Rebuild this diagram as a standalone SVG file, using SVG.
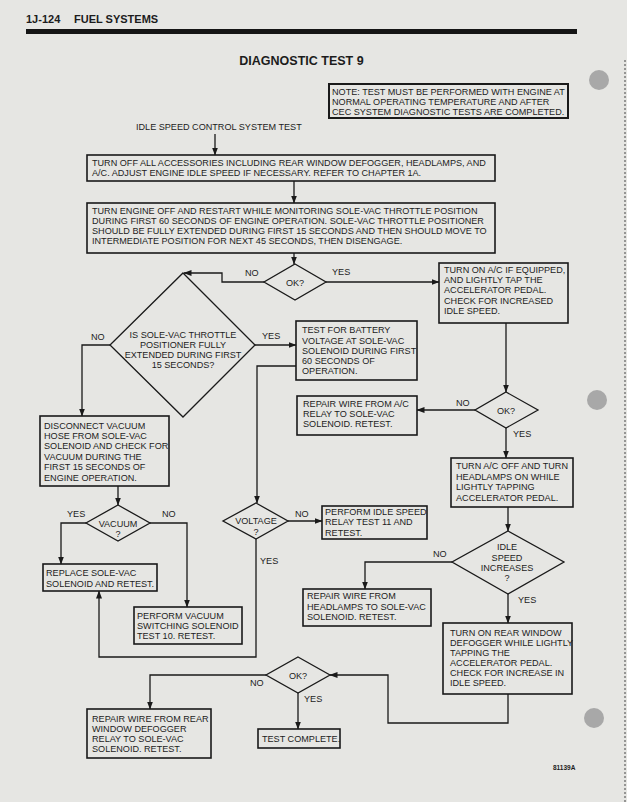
<svg xmlns="http://www.w3.org/2000/svg" width="627" height="802" viewBox="0 0 627 802">
<style>
.t{font-family:"Liberation Sans",Arial,Helvetica,sans-serif;font-size:9.1px;fill:#1c1c1c}
.m{text-anchor:middle}
.b{font-weight:bold}
.box{fill:none;stroke:#1a1a1a;stroke-width:1.6}
.dia{fill:none;stroke:#1a1a1a;stroke-width:1.3}
.c{fill:none;stroke:#1a1a1a;stroke-width:1.3;marker-end:url(#ah)}
.hole{fill:#a8a8a8}
</style>
<defs>
<marker id="ah" markerUnits="userSpaceOnUse" markerWidth="8" markerHeight="6" refX="7.5" refY="3" orient="auto">
<path d="M0,0 L8,3 L0,6 z" fill="#1a1a1a"/>
</marker>
</defs>
<rect x="0" y="0" width="627" height="802" fill="#e6e6e3"/>
<line x1="625" y1="60" x2="625" y2="802" stroke="#444" stroke-width="1" stroke-dasharray="2 2"/>
<circle class="hole" cx="599" cy="80" r="10"/>
<circle class="hole" cx="597" cy="400" r="10"/>
<circle class="hole" cx="594" cy="718" r="10"/>

<g id="header">
<text class="t b" x="26" y="23" style="font-size:11px">1J-124</text>
<text class="t b" x="74" y="23" style="font-size:11px">FUEL SYSTEMS</text>
<rect x="26" y="29" width="551" height="5" fill="#151515"/>
<text class="t b m" x="301.5" y="65" style="font-size:12.5px">DIAGNOSTIC TEST 9</text>
<text class="t b" x="553" y="770" style="font-size:6.5px">81139A</text>
</g>

<g id="connectors">
<path class="c" d="M215,134 V155"/>
<path class="c" d="M294,181 V203"/>
<path class="c" d="M294,253 V264"/>
<path class="c" d="M264,282 H222 V273 H184"/>
<path class="c" d="M326,282 H439"/>
<path class="c" d="M506,323 V392"/>
<path class="c" d="M475,410 H417"/>
<path class="c" d="M506,428 V458"/>
<path class="c" d="M508,507 V531"/>
<path class="c" d="M452,562 H365 V589"/>
<path class="c" d="M508,594 V623"/>
<path class="c" d="M508,694 V723 H388 V675 H330"/>
<path class="c" d="M266,675 H150 V709"/>
<path class="c" d="M298,693 V729"/>
<path class="c" d="M255,345 H296"/>
<path class="c" d="M110,345 H82 V416"/>
<path class="c" d="M118,486 V505"/>
<path class="c" d="M86,523 H61 V564"/>
<path class="c" d="M150,523 H187 V607"/>
<path class="c" d="M296,366 H257 V503"/>
<path class="c" d="M288,521 H322"/>
<path class="c" d="M256,539 V657 H99 V591"/>
<text class="t" x="245" y="276">NO</text>
<text class="t" x="332" y="275">YES</text>
<text class="t" x="91" y="340">NO</text>
<text class="t" x="262" y="339">YES</text>
<text class="t" x="456" y="406">NO</text>
<text class="t" x="513" y="437">YES</text>
<text class="t" x="67" y="517">YES</text>
<text class="t" x="162" y="517">NO</text>
<text class="t" x="295" y="517">NO</text>
<text class="t" x="260" y="564">YES</text>
<text class="t" x="433" y="557">NO</text>
<text class="t" x="518" y="603">YES</text>
<text class="t" x="250" y="686">NO</text>
<text class="t" x="304" y="702">YES</text>
</g>

<g id="note">
<rect class="box" x="329" y="84" width="239" height="34" style="stroke-width:2"/>
<text class="t" x="332" y="95">NOTE: TEST MUST BE PERFORMED WITH ENGINE AT</text>
<text class="t" x="332" y="105">NORMAL OPERATING TEMPERATURE AND AFTER</text>
<text class="t" x="332" y="115">CEC SYSTEM DIAGNOSTIC TESTS ARE COMPLETED.</text>
</g>

<g id="start">
<text class="t" x="136" y="130">IDLE SPEED CONTROL SYSTEM TEST</text>
</g>

<g id="accessories">
<rect class="box" x="87" y="155" width="408" height="26"/>
<text class="t" x="92" y="166">TURN OFF ALL ACCESSORIES INCLUDING REAR WINDOW DEFOGGER, HEADLAMPS, AND</text>
<text class="t" x="92" y="176">A/C. ADJUST ENGINE IDLE SPEED IF NECESSARY. REFER TO CHAPTER 1A.</text>
</g>

<g id="restart">
<rect class="box" x="87" y="203" width="408" height="50"/>
<text class="t" x="92" y="214">TURN ENGINE OFF AND RESTART WHILE MONITORING SOLE-VAC THROTTLE POSITION</text>
<text class="t" x="92" y="224">DURING FIRST 60 SECONDS OF ENGINE OPERATION. SOLE-VAC THROTTLE POSITIONER</text>
<text class="t" x="92" y="234">SHOULD BE FULLY EXTENDED DURING FIRST 15 SECONDS AND THEN SHOULD MOVE TO</text>
<text class="t" x="92" y="244">INTERMEDIATE POSITION FOR NEXT 45 SECONDS, THEN DISENGAGE.</text>
</g>

<g id="ok1">
<polygon class="dia" points="295,264 326,282 295,300 264,282"/>
<text class="t m" x="295" y="286">OK?</text>
</g>

<g id="ac-on">
<rect class="box" x="439" y="263" width="129" height="60"/>
<text class="t" x="444" y="273">TURN ON A/C IF EQUIPPED,</text>
<text class="t" x="444" y="283">AND LIGHTLY TAP THE</text>
<text class="t" x="444" y="293">ACCELERATOR PEDAL.</text>
<text class="t" x="444" y="304">CHECK FOR INCREASED</text>
<text class="t" x="444" y="314">IDLE SPEED.</text>
</g>

<g id="extended">
<polygon class="dia" points="183,273 255,345 183,417 110,345"/>
<text class="t m" x="183" y="338">IS SOLE-VAC THROTTLE</text>
<text class="t m" x="183" y="348">POSITIONER FULLY</text>
<text class="t m" x="183" y="358">EXTENDED DURING FIRST</text>
<text class="t m" x="183" y="368">15 SECONDS?</text>
</g>

<g id="battery">
<rect class="box" x="296" y="321" width="121" height="59"/>
<text class="t" x="302" y="333">TEST FOR BATTERY</text>
<text class="t" x="302" y="344">VOLTAGE AT SOLE-VAC</text>
<text class="t" x="302" y="354">SOLENOID DURING FIRST</text>
<text class="t" x="302" y="364">60 SECONDS OF</text>
<text class="t" x="302" y="374">OPERATION.</text>
</g>

<g id="ok2">
<polygon class="dia" points="506,392 538,410 506,428 475,410"/>
<text class="t m" x="506" y="414">OK?</text>
</g>

<g id="repair-ac">
<rect class="box" x="297" y="396" width="120" height="39"/>
<text class="t" x="303" y="407">REPAIR WIRE FROM A/C</text>
<text class="t" x="303" y="417">RELAY TO SOLE-VAC</text>
<text class="t" x="303" y="427">SOLENOID. RETEST.</text>
</g>

<g id="disconnect">
<rect class="box" x="40" y="416" width="129" height="70"/>
<text class="t" x="44" y="429">DISCONNECT VACUUM</text>
<text class="t" x="44" y="439">HOSE FROM SOLE-VAC</text>
<text class="t" x="44" y="449">SOLENOID AND CHECK FOR</text>
<text class="t" x="44" y="460">VACUUM DURING THE</text>
<text class="t" x="44" y="470">FIRST 15 SECONDS OF</text>
<text class="t" x="44" y="481">ENGINE OPERATION.</text>
</g>

<g id="ac-off">
<rect class="box" x="451" y="458" width="122" height="49"/>
<text class="t" x="456" y="469">TURN A/C OFF AND TURN</text>
<text class="t" x="456" y="480">HEADLAMPS ON WHILE</text>
<text class="t" x="456" y="490">LIGHTLY TAPPING</text>
<text class="t" x="456" y="501">ACCELERATOR PEDAL.</text>
</g>

<g id="vacuum">
<polygon class="dia" points="118,505 150,523 118,541 86,523"/>
<text class="t m" x="118" y="527">VACUUM</text>
<text class="t m" x="118" y="537">?</text>
</g>

<g id="voltage">
<polygon class="dia" points="256,503 288,521 256,539 223,521"/>
<text class="t m" x="256" y="524">VOLTAGE</text>
<text class="t m" x="256" y="535">?</text>
</g>

<g id="idle-relay">
<rect class="box" x="322" y="506" width="105" height="33"/>
<text class="t" x="325" y="515">PERFORM IDLE SPEED</text>
<text class="t" x="325" y="525">RELAY TEST 11 AND</text>
<text class="t" x="325" y="536">RETEST.</text>
</g>

<g id="idle-increases">
<polygon class="dia" points="508,531 564,562 508,594 452,562"/>
<text class="t m" x="507" y="550">IDLE</text>
<text class="t m" x="507" y="561">SPEED</text>
<text class="t m" x="507" y="571">INCREASES</text>
<text class="t m" x="507" y="581">?</text>
</g>

<g id="replace">
<rect class="box" x="43" y="564" width="114" height="27"/>
<text class="t" x="46" y="576">REPLACE SOLE-VAC</text>
<text class="t" x="46" y="587">SOLENOID AND RETEST.</text>
</g>

<g id="repair-headlamps">
<rect class="box" x="303" y="589" width="128" height="37"/>
<text class="t" x="307" y="599">REPAIR WIRE FROM</text>
<text class="t" x="307" y="610">HEADLAMPS TO SOLE-VAC</text>
<text class="t" x="307" y="620">SOLENOID. RETEST.</text>
</g>

<g id="vacuum-switching">
<rect class="box" x="134" y="607" width="108" height="37"/>
<text class="t" x="137" y="619">PERFORM VACUUM</text>
<text class="t" x="137" y="629">SWITCHING SOLENOID</text>
<text class="t" x="137" y="639">TEST 10. RETEST.</text>
</g>

<g id="defogger">
<rect class="box" x="443" y="623" width="129" height="71"/>
<text class="t" x="450" y="636">TURN ON REAR WINDOW</text>
<text class="t" x="450" y="646">DEFOGGER WHILE LIGHTLY</text>
<text class="t" x="450" y="656">TAPPING THE</text>
<text class="t" x="450" y="666">ACCELERATOR PEDAL.</text>
<text class="t" x="450" y="676">CHECK FOR INCREASE IN</text>
<text class="t" x="450" y="686">IDLE SPEED.</text>
</g>

<g id="ok3">
<polygon class="dia" points="298,657 330,675 298,693 266,675"/>
<text class="t m" x="298" y="679">OK?</text>
</g>

<g id="repair-rear">
<rect class="box" x="87" y="709" width="124" height="49"/>
<text class="t" x="92" y="722">REPAIR WIRE FROM REAR</text>
<text class="t" x="92" y="732">WINDOW DEFOGGER</text>
<text class="t" x="92" y="742">RELAY TO SOLE-VAC</text>
<text class="t" x="92" y="752">SOLENOID. RETEST.</text>
</g>

<g id="complete">
<rect class="box" x="258" y="729" width="82" height="19"/>
<text class="t" x="262" y="742">TEST COMPLETE.</text>
</g>
</svg>
